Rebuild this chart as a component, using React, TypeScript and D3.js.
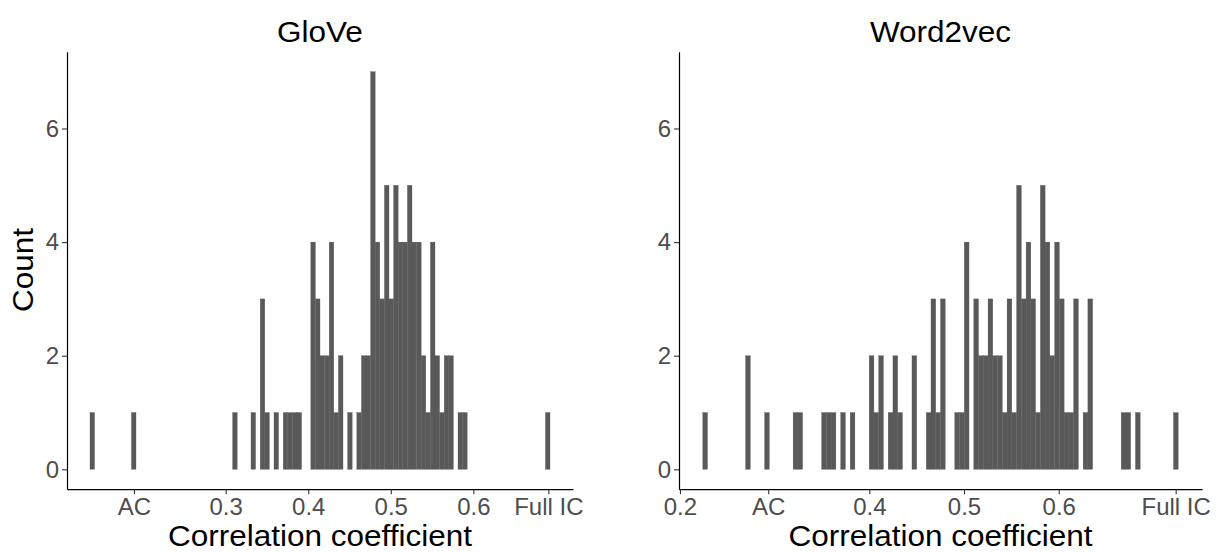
import React, { useEffect, useRef } from "react";
import * as d3 from "d3";

// histogram counts, 100 bins each
const gloveCounts = [
  1, 0, 0, 0, 0, 0, 0, 0, 0, 1,
  0, 0, 0, 0, 0, 0, 0, 0, 0, 0,
  0, 0, 0, 0, 0, 0, 0, 0, 0, 0,
  0, 1, 0, 0, 0, 1, 0, 3, 1, 0,
  1, 0, 1, 1, 1, 1, 0, 0, 4, 3,
  2, 2, 4, 1, 2, 0, 1, 0, 1, 2,
  2, 7, 4, 3, 5, 3, 5, 4, 4, 5,
  4, 4, 2, 1, 4, 2, 1, 2, 2, 0,
  1, 1, 0, 0, 0, 0, 0, 0, 0, 0,
  0, 0, 0, 0, 0, 0, 0, 0, 0, 1
];
const gloveRange = [0.1356, 0.6929];
const gloveTickValues = [0.1889, 0.3, 0.4, 0.5, 0.6, 0.6909];
const gloveTickLabels = ["AC", "0.3", "0.4", "0.5", "0.6", "Full IC"];

const w2vCounts = [
  1, 0, 0, 0, 0, 0, 0, 0, 0, 2,
  0, 0, 0, 1, 0, 0, 0, 0, 0, 1,
  1, 0, 0, 0, 0, 1, 1, 1, 0, 1,
  0, 1, 0, 0, 0, 2, 1, 2, 0, 1,
  2, 1, 0, 0, 2, 0, 0, 1, 3, 1,
  3, 0, 0, 1, 1, 4, 0, 3, 2, 2,
  3, 2, 2, 1, 3, 1, 5, 3, 4, 3,
  1, 5, 4, 2, 4, 3, 1, 1, 3, 0,
  1, 3, 0, 0, 0, 0, 0, 0, 1, 1,
  0, 1, 0, 0, 0, 0, 0, 0, 0, 1
];
const w2vRange = [0.2241, 0.7262];
const w2vTickValues = [0.2, 0.2932, 0.4, 0.5, 0.6, 0.7235];
const w2vTickLabels = ["0.2", "AC", "0.4", "0.5", "0.6", "Full IC"];

const countTicks = [0, 2, 4, 6];
const countMax = 7;

const font = "'Liberation Sans', Arial, sans-serif";
const barColor = "#595959";
const tickColor = "#4d4d4d";

// titles in the reference are a bit wider than Liberation Sans
const addTitle = (parent, tx, ty, rotate, label) => {
  parent
    .append("text")
    .attr("transform", `translate(${tx},${ty})${rotate ? " rotate(-90)" : ""} scale(1.05,1)`)
    .attr("text-anchor", "middle")
    .attr("fill", "#000")
    .style("font-size", "30px")
    .style("font-family", font)
    .text(label);
};

const drawPanel = (svg, p) => {
  const g = svg.append("g");
  const [lo, hi] = p.range;
  const pad = (hi - lo) * 0.05;
  const x = d3.scaleLinear().domain([lo - pad, hi + pad]).range(p.px);
  const y = d3
    .scaleLinear()
    .domain([-countMax * 0.05, countMax * 1.05])
    .range([489.2, 51.8]);
  const step = (hi - lo) / p.counts.length;

  // thin stroke of the fill colour hides the seams between touching bars
  g.selectAll("rect")
    .data(p.counts.map((c, i) => ({ c, i })).filter(d => d.c > 0))
    .enter()
    .append("rect")
    .attr("x", d => x(lo + d.i * step))
    .attr("width", d => x(lo + (d.i + 1) * step) - x(lo + d.i * step))
    .attr("y", d => y(d.c))
    .attr("height", d => y(0) - y(d.c))
    .attr("fill", barColor)
    .attr("stroke", barColor)
    .attr("stroke-width", 0.3);

  const xAxis = d3
    .axisBottom(x)
    .tickValues(p.ticks)
    .tickFormat((d, i) => p.labels[i])
    .tickSize(5)
    .tickSizeOuter(0)
    .tickPadding(4);
  const yAxis = d3
    .axisLeft(y)
    .tickValues(countTicks)
    .tickFormat(d3.format("d"))
    .tickSize(5)
    .tickSizeOuter(0)
    .tickPadding(3);

  const gx = g.append("g").attr("transform", `translate(0,${y.range()[0]})`).call(xAxis);
  const gy = g.append("g").attr("transform", `translate(${p.px[0]},0)`).call(yAxis);

  [gx, gy].forEach(ax => {
    ax.select(".domain").attr("stroke", "#000").attr("stroke-width", 1.2);
    ax.selectAll(".tick line").attr("stroke", "#333").attr("stroke-width", 1.1);
    ax.selectAll(".tick text")
      .attr("fill", tickColor)
      .style("font-size", "24px")
      .style("font-family", font);
  });

  const cx = (p.px[0] + p.px[1]) / 2;
  addTitle(g, cx, 42, false, p.title);
  addTitle(g, cx, 546, false, "Correlation coefficient");
};

const App = () => {
  const ref = useRef(null);

  useEffect(() => {
    const svg = d3.select(ref.current);
    svg.selectAll("*").remove();
    svg.append("rect").attr("width", 1218).attr("height", 552).attr("fill", "#fff");

    drawPanel(svg, {
      title: "GloVe",
      counts: gloveCounts,
      range: gloveRange,
      ticks: gloveTickValues,
      labels: gloveTickLabels,
      px: [67, 573]
    });
    drawPanel(svg, {
      title: "Word2vec",
      counts: w2vCounts,
      range: w2vRange,
      ticks: w2vTickValues,
      labels: w2vTickLabels,
      px: [679, 1202]
    });

    addTitle(svg, 33, 270, true, "Count");
  }, []);

  return (
    <svg
      ref={ref}
      width={1218}
      height={552}
      style={{ position: "absolute", left: 0, top: 0 }}
    />
  );
};

export default App;
